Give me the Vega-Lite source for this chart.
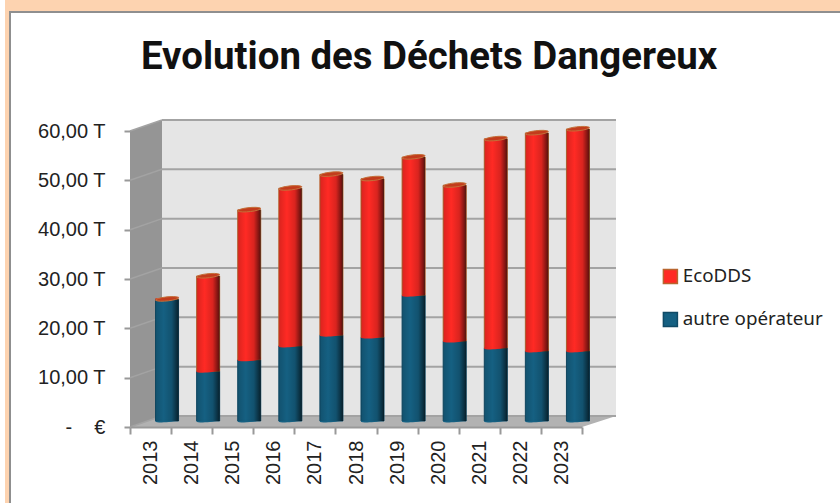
{
"$schema":"https://vega.github.io/schema/vega-lite/v6.json",
"width":486,"height":307,
"autosize":"none",
"padding":{"left":130,"top":120,"right":224,"bottom":76},
"background":"#ffffff",
"title":{"text":"Evolution des Déchets Dangereux","font":"Roboto","fontSize":38.4,"fontWeight":"bold","color":"#111111","anchor":"start","frame":"group","dx":11,"offset":-77},
"datasets":{
"tonnage":[
{"annee":"2013","serie":"autre opérateur","valeur":24.7},{"annee":"2013","serie":"EcoDDS","valeur":0},
{"annee":"2014","serie":"autre opérateur","valeur":10.1},{"annee":"2014","serie":"EcoDDS","valeur":19.3},
{"annee":"2015","serie":"autre opérateur","valeur":12.4},{"annee":"2015","serie":"EcoDDS","valeur":30.4},
{"annee":"2016","serie":"autre opérateur","valeur":15.2},{"annee":"2016","serie":"EcoDDS","valeur":32.0},
{"annee":"2017","serie":"autre opérateur","valeur":17.4},{"annee":"2017","serie":"EcoDDS","valeur":32.6},
{"annee":"2018","serie":"autre opérateur","valeur":17.0},{"annee":"2018","serie":"EcoDDS","valeur":32.1},
{"annee":"2019","serie":"autre opérateur","valeur":25.5},{"annee":"2019","serie":"EcoDDS","valeur":28.0},
{"annee":"2020","serie":"autre opérateur","valeur":16.2},{"annee":"2020","serie":"EcoDDS","valeur":31.6},
{"annee":"2021","serie":"autre opérateur","valeur":14.8},{"annee":"2021","serie":"EcoDDS","valeur":42.4},
{"annee":"2022","serie":"autre opérateur","valeur":14.2},{"annee":"2022","serie":"EcoDDS","valeur":44.2},
{"annee":"2023","serie":"autre opérateur","valeur":14.2},{"annee":"2023","serie":"EcoDDS","valeur":45.0}
],
"graduations":[{"v":0,"v2":2.23},{"v":10,"v2":12.23},{"v":20,"v2":22.23},{"v":30,"v2":32.23},{"v":40,"v2":42.23},{"v":50,"v2":52.23},{"v":60,"v2":62.23}],
"paroi":[{"d":0,"bas":0,"haut":60},{"d":1,"bas":2.23,"haut":62.23}],
"sol":[{"p":0,"g":0,"dr":452},{"p":2.23,"g":32,"dr":486}]
},
"layer":[
{"data":{"values":[{"a":0,"b":1}]},
 "mark":{"type":"rect","fill":"#fdd3b0","clip":false},
 "encoding":{"x":{"field":"a","type":"quantitative","axis":null,"scale":{"domain":[0,1],"range":[-125,730]}},"x2":{"field":"b"},"y":{"field":"a","type":"quantitative","axis":null,"scale":{"domain":[0,1],"range":[-120,400]}},"y2":{"field":"b"}}},
{"data":{"values":[{"a":0,"b":1}]},
 "mark":{"type":"rect","fill":"#ffffff","stroke":"#8f8f8f","strokeWidth":2,"clip":false},
 "encoding":{"x":{"field":"a","type":"quantitative","axis":null,"scale":{"domain":[0,1],"range":[-120,730]}},"x2":{"field":"b"},"y":{"field":"a","type":"quantitative","axis":null,"scale":{"domain":[0,1],"range":[-108,400]}},"y2":{"field":"b"}}},
{"data":{"values":[{"a":0,"b":1,"c":0,"e":60}]},
 "mark":{"type":"rect","fill":"#e5e5e5"},
 "encoding":{"x":{"field":"a","type":"quantitative","axis":null,"scale":{"domain":[0,1],"range":[32,486]}},"x2":{"field":"b"},"y":{"field":"c","type":"quantitative","axis":null,"scale":{"domain":[0,60],"range":[296,0]}},"y2":{"field":"e"}}},
{"data":{"name":"sol"},
 "mark":{"type":"area","orient":"horizontal","fill":"#b2b2b2"},
 "encoding":{"x":{"field":"g","type":"quantitative","axis":null,"scale":{"domain":[0,486],"range":[0,486]}},"x2":{"field":"dr"},"y":{"field":"p","type":"quantitative","axis":null,"scale":{"domain":[0,60],"range":[307,11]}}}},
{"data":{"name":"paroi"},
 "mark":{"type":"area","fill":"#959595"},
 "encoding":{"x":{"field":"d","type":"quantitative","axis":null,"scale":{"domain":[0,1],"range":[0,32]}},"y":{"field":"bas","type":"quantitative","axis":null,"scale":{"domain":[0,60],"range":[307,11]}},"y2":{"field":"haut"}}},
{"data":{"name":"graduations"},
 "mark":{"type":"rule","color":"#a3a3a3","strokeWidth":2},
 "encoding":{"x":{"datum":0,"type":"quantitative","axis":null,"scale":{"domain":[0,1],"range":[32,486]}},"x2":{"datum":1},"y":{"field":"v","type":"quantitative","axis":null,"scale":{"domain":[0,60],"range":[296,0]}}}},
{"data":{"name":"graduations"},
 "mark":{"type":"rule","color":"#a3a3a3","strokeWidth":1.5},
 "encoding":{"x":{"datum":0,"type":"quantitative","axis":null,"scale":{"domain":[0,1],"range":[0,32]}},"x2":{"datum":1},
 "y":{"field":"v","type":"quantitative","scale":{"domain":[0,60],"range":[307,11]},"axis":{"orient":"left","zindex":1,"title":null,"values":[0,10,20,30,40,50,60],"labelExpr":"datum.value==0?'-\u00a0\u00a0\u00a0\u00a0€':replace(format(datum.value,'.2f'),'.',',')+' T'","labelFont":"Liberation Sans","labelFontSize":20,"labelColor":"#222222","tickColor":"#999999","tickSize":6,"tickWidth":2,"domain":false,"grid":false,"labelPadding":19}},"y2":{"field":"v2"}}},
{"data":{"name":"tonnage"},
 "mark":{"type":"rule","opacity":0},
 "encoding":{"x":{"field":"annee","type":"ordinal","scale":{"type":"band","range":[0,452]},"axis":{"orient":"bottom","title":null,"labelAngle":270,"labelFont":"Liberation Sans","labelFontSize":20,"labelColor":"#222222","tickColor":"#999999","tickSize":7,"tickWidth":2,"tickBand":"extent","domain":true,"domainColor":"#999999","domainWidth":2,"grid":false,"labelPadding":6,"zindex":1}}}},
{"data":{"name":"tonnage"},
 "transform":[{"stack":"valeur","groupby":["annee"],"sort":[{"field":"serie","order":"descending"}],"as":["y0","y1"]}],
 "encoding":{"x":{"field":"annee","type":"ordinal","axis":null,"scale":{"type":"band","range":[16.5,468.5],"paddingInner":0.44,"paddingOuter":0.22}}},
 "layer":[
 {"mark":{"type":"bar","strokeWidth":1},
  "encoding":{"y":{"field":"y0","type":"quantitative","axis":null,"scale":{"domain":[0,60],"range":[301,5]}},"y2":{"field":"y1"},
  "color":{"field":"serie","type":"nominal","scale":{"domain":["EcoDDS","autre opérateur"],"range":["#ff2a24","#156082"]},"legend":{"title":null,"orient":"none","legendX":531,"legendY":147,"symbolType":"square","symbolSize":196,"symbolOpacity":1,"labelFont":"Noto Sans","labelFontSize":18.8,"labelColor":"#222222","rowPadding":22,"labelOffset":3}},
  "stroke":{"field":"serie","type":"nominal","scale":{"domain":["EcoDDS","autre opérateur"],"range":["#b8652f","#104a66"]},"legend":{"title":null,"orient":"none","legendX":531,"legendY":147,"symbolType":"square","symbolSize":196}}}},
 {"mark":{"type":"point","filled":true,"size":529,"opacity":1,"shape":"M-1,0.04 C-1,0.2 0.6,0.14 1,-0.1 L1,-0.2 L-1,-0.06 Z"},
  "encoding":{"y":{"field":"y0","type":"quantitative","axis":null,"scale":{"domain":[0,60],"range":[301,5]}},
  "color":{"field":"serie","type":"nominal","legend":null}}},
 {"mark":{"type":"bar","fill":{"x1":0,"x2":1,"y1":0,"y2":0,"gradient":"linear","stops":[{"offset":0,"color":"rgba(0,0,0,0.15)"},{"offset":0.35,"color":"rgba(0,0,0,0)"},{"offset":0.7,"color":"rgba(0,0,0,0.15)"},{"offset":1,"color":"rgba(0,0,0,0.65)"}]}},
  "encoding":{"y":{"field":"y0","type":"quantitative","axis":null,"scale":{"domain":[0,60],"range":[301,5]}},"y2":{"field":"y1"}}},
 {"mark":{"type":"point","filled":true,"size":529,"opacity":1,"shape":"M-1,0.1 C-1,-0.14 0.7,-0.34 1,-0.14 C1,0.1 -0.7,0.3 -1,0.1 Z","fill":"#c23c1c","stroke":"#c4703a","strokeWidth":1},
  "transform":[{"filter":"datum.serie=='EcoDDS'"}],
  "encoding":{"y":{"field":"y1","type":"quantitative","axis":null,"scale":{"domain":[0,60],"range":[301,5]}}}}
 ]}
],
"resolve":{"scale":{"x":"independent","y":"independent","color":"independent","stroke":"independent"},"axis":{"x":"independent","y":"independent"}},
"config":{"view":{"stroke":null}}
}
